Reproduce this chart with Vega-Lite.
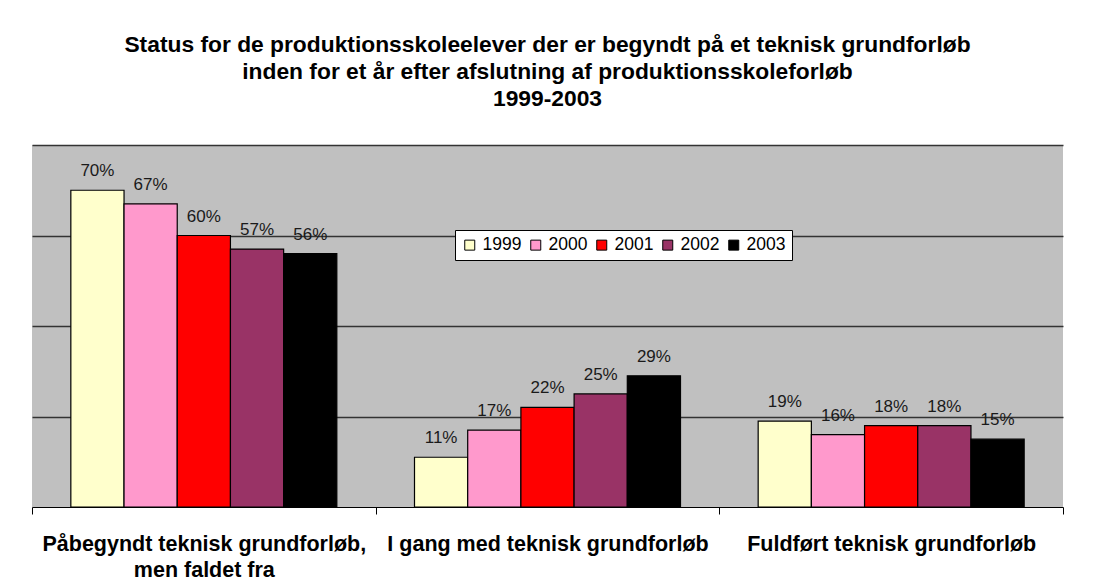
{
  "$schema": "https://vega.github.io/schema/vega-lite/v6.json",
  "width": 1031,
  "height": 362,
  "autosize": {"type": "none"},
  "padding": {"left": 32, "top": 145, "right": 30, "bottom": 79},
  "background": "white",
  "title": {
    "text": ["Status for de produktionsskoleelever der er begyndt på et teknisk grundforløb", "inden for et år efter afslutning af produktionsskoleforløb", "1999-2003"],
    "font": "Liberation Sans",
    "fontSize": 22.8,
    "fontWeight": "bold",
    "color": "black",
    "lineHeight": 27,
    "anchor": "middle",
    "offset": 34
  },
  "data": {
    "values": [
      {"kategori": "Påbegyndt teknisk grundforløb,|men faldet fra", "aar": "1999", "andel": 0.70},
      {"kategori": "Påbegyndt teknisk grundforløb,|men faldet fra", "aar": "2000", "andel": 0.67},
      {"kategori": "Påbegyndt teknisk grundforløb,|men faldet fra", "aar": "2001", "andel": 0.60},
      {"kategori": "Påbegyndt teknisk grundforløb,|men faldet fra", "aar": "2002", "andel": 0.57},
      {"kategori": "Påbegyndt teknisk grundforløb,|men faldet fra", "aar": "2003", "andel": 0.56},
      {"kategori": "I gang med teknisk grundforløb", "aar": "1999", "andel": 0.11},
      {"kategori": "I gang med teknisk grundforløb", "aar": "2000", "andel": 0.17},
      {"kategori": "I gang med teknisk grundforløb", "aar": "2001", "andel": 0.22},
      {"kategori": "I gang med teknisk grundforløb", "aar": "2002", "andel": 0.25},
      {"kategori": "I gang med teknisk grundforløb", "aar": "2003", "andel": 0.29},
      {"kategori": "Fuldført teknisk grundforløb", "aar": "1999", "andel": 0.19},
      {"kategori": "Fuldført teknisk grundforløb", "aar": "2000", "andel": 0.16},
      {"kategori": "Fuldført teknisk grundforløb", "aar": "2001", "andel": 0.18},
      {"kategori": "Fuldført teknisk grundforløb", "aar": "2002", "andel": 0.18},
      {"kategori": "Fuldført teknisk grundforløb", "aar": "2003", "andel": 0.15}
    ]
  },
  "encoding": {
    "x": {
      "field": "kategori",
      "type": "nominal",
      "sort": null,
      "scale": {"paddingInner": 0, "paddingOuter": 0},
      "axis": {
        "title": null,
        "labelAngle": 0,
        "labelExpr": "split(datum.label, '|')",
        "labelFont": "Liberation Sans",
        "labelFontSize": 21.5,
        "labelFontWeight": "bold",
        "labelColor": "black",
        "labelLineHeight": 26,
        "labelPadding": 19,
        "labelBaseline": "top",
        "labelLimit": 400,
        "tickBand": "extent",
        "tickSize": 7,
        "tickColor": "black",
        "domainColor": "black",
        "grid": false
      }
    },
    "xOffset": {
      "field": "aar",
      "type": "nominal",
      "scale": {"paddingInner": 0, "paddingOuter": 0.73}
    },
    "y": {
      "field": "andel",
      "type": "quantitative",
      "scale": {"domain": [0, 0.8], "nice": false},
      "axis": {
        "title": null,
        "labels": false,
        "ticks": false,
        "domain": false,
        "grid": true,
        "values": [0.2, 0.4, 0.6, 0.8],
        "gridColor": "#333333",
        "gridWidth": 1.3,
        "gridOpacity": 1
      }
    }
  },
  "layer": [
    {
      "mark": {"type": "bar", "stroke": "black", "strokeWidth": 1.2},
      "encoding": {
        "color": {
          "field": "aar",
          "type": "nominal",
          "scale": {
            "domain": ["1999", "2000", "2001", "2002", "2003"],
            "range": ["#FFFFCC", "#FF99CC", "#FF0000", "#993366", "#000000"]
          },
          "legend": {
            "title": null,
            "orient": "none",
            "direction": "horizontal",
            "legendX": 423,
            "legendY": 85,
            "fillColor": "white",
            "strokeColor": "black",
            "padding": 6,
            "symbolType": "square",
            "symbolSize": 100,
            "symbolStrokeColor": "black",
            "symbolStrokeWidth": 1,
            "symbolOpacity": 1,
            "labelFont": "Liberation Sans",
            "labelFontSize": 17.5,
            "labelColor": "black",
            "labelOffset": 4,
            "columnPadding": 5
          }
        }
      }
    },
    {
      "mark": {
        "type": "text",
        "baseline": "alphabetic",
        "dy": -14,
        "font": "Liberation Sans",
        "fontSize": 17,
        "color": "#1a1a1a"
      },
      "encoding": {
        "text": {"field": "andel", "type": "quantitative", "format": ".0%"}
      }
    }
  ],
  "config": {
    "view": {"fill": "#C0C0C0", "stroke": null}
  }
}
